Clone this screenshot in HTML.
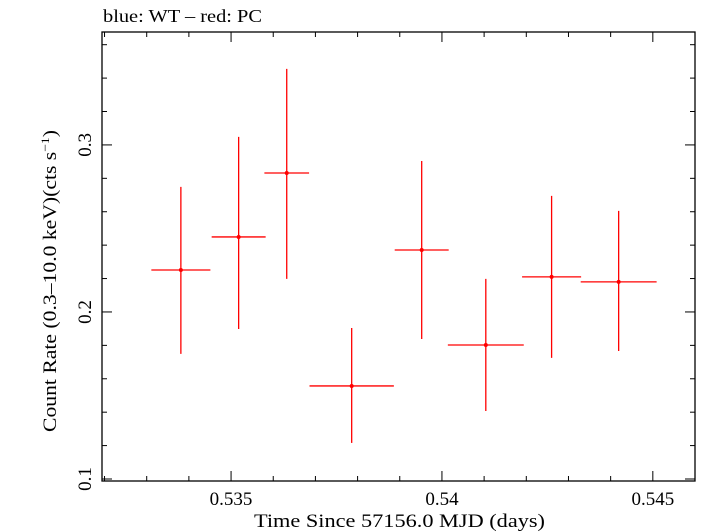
<!DOCTYPE html>
<html><head><meta charset="utf-8"><style>
body{margin:0;background:#fff}
svg{display:block;font-family:"Liberation Serif","DejaVu Serif",serif}
</style></head><body>
<svg id="chart" width="709" height="532">
<text x="103" y="22" font-size="18" textLength="159" lengthAdjust="spacingAndGlyphs">blue: WT – red: PC</text>
<rect x="102" y="32" width="593" height="449" fill="none" stroke="#000" stroke-width="1.3"/>
<g id="ticks"></g>
<g id="marks"></g>
<text x="254" y="527" font-size="19" textLength="291" lengthAdjust="spacingAndGlyphs">Time Since 57156.0 MJD (days)</text>
<text transform="translate(56,432) rotate(-90)" font-size="19" textLength="302" lengthAdjust="spacingAndGlyphs">Count Rate (0.3–10.0 keV)(cts s<tspan dy="-7" font-size="12">−1</tspan><tspan dy="7">)</tspan></text>
</svg>
<script>
const xCenters=[0.53381,0.53518,0.53632,0.53786,0.53952,0.54104,0.54260,0.54419];
const xHalfWidths=[0.0007,0.00064,0.00053,0.001,0.00064,0.0009,0.0007,0.0009];
const rates=[0.2251,0.2449,0.2832,0.1557,0.2371,0.1802,0.2210,0.2180];
const rateHigh=[0.2749,0.3048,0.3455,0.1904,0.2904,0.2198,0.2695,0.2605];
const rateLow=[0.1749,0.1898,0.2198,0.1216,0.1838,0.1407,0.1725,0.1766];
const xTickLabels=["0.535","0.54","0.545"];
const yTickLabels=["0.1","0.2","0.3"];
const X0=0.53194,X1=0.546,Y0=0.0988,Y1=0.3676;
const L=102,R=695,T=32,B=481;
const sx=v=>L+(v-X0)/(X1-X0)*(R-L);
const sy=v=>B-(v-Y0)/(Y1-Y0)*(B-T);
const NS="http://www.w3.org/2000/svg";
function mk(tag,attrs,parent){const e=document.createElementNS(NS,tag);for(const k in attrs)e.setAttribute(k,attrs[k]);parent.appendChild(e);return e;}
const tg=document.getElementById('ticks'),mg=document.getElementById('marks');
for(let i=532;i<=546;i++){const v=i/1000;if(v<X0||v>X1)continue;const major=i%5===0;const len=major?10:5;const x=sx(v);
 const a=mk('line',{x1:x,x2:x,y1:B,y2:B-len,stroke:'#000','stroke-width':1},tg);
 
 
 const b=mk('line',{x1:x,x2:x,y1:T,y2:T+len,stroke:'#000','stroke-width':1},tg);
 
 }
xTickLabels.forEach(s=>{const t=mk('text',{x:sx(parseFloat(s)),y:505,'font-size':19,'text-anchor':'middle'},tg);t.textContent=s;
 
 });
for(let i=5;i<=18;i++){const v=i/50;if(v<Y0||v>Y1)continue;const major=i%5===0;const len=major?10:5;const y=sy(v);
 const a=mk('line',{x1:L,x2:L+len,y1:y,y2:y,stroke:'#000','stroke-width':1},tg);
 
 
 const b=mk('line',{x1:R,x2:R-len,y1:y,y2:y,stroke:'#000','stroke-width':1},tg);
 
 }
yTickLabels.forEach(s=>{const y=sy(parseFloat(s));const t=mk('text',{transform:`translate(91,${y}) rotate(-90)`,'font-size':19,'text-anchor':'middle'},tg);t.textContent=s;
 
 });
xCenters.forEach((xc,i)=>{const g=mk('g',{},mg);
 
 
 mk('line',{x1:sx(xc-xHalfWidths[i]),x2:sx(xc+xHalfWidths[i]),y1:sy(rates[i]),y2:sy(rates[i]),stroke:'#f00','stroke-width':1.3},g);
 mk('line',{x1:sx(xc),x2:sx(xc),y1:sy(rateHigh[i]),y2:sy(rateLow[i]),stroke:'#f00','stroke-width':1.3},g);
 mk('circle',{cx:sx(xc),cy:sy(rates[i]),r:2,fill:'#f00'},g);});
</script>
</body></html>
